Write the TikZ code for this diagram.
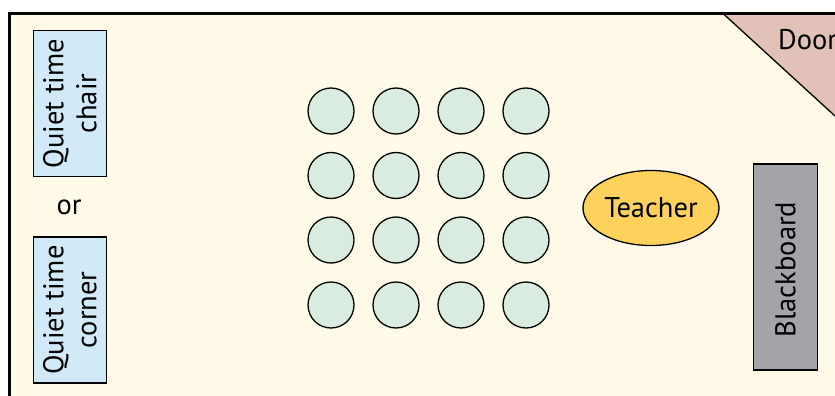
\documentclass[tikz,border=0pt]{standalone}
\usepackage{fontspec}
\usetikzlibrary{shapes.geometric}
\setmainfont{PT Sans}
\definecolor{paper}{HTML}{FFFBE8}
\definecolor{deskfill}{HTML}{D9ECDF}
\definecolor{quietfill}{HTML}{D2E9F8}
\definecolor{doorfill}{HTML}{E2C2B8}
\definecolor{teacherfill}{HTML}{FDD25C}
\definecolor{boardfill}{HTML}{A2A4A7}
\tikzset{
  lbl/.style={font=\fontsize{28.5}{33}\selectfont, align=center, text=black},
  desk/.style={circle, draw=black, line width=1.3pt, fill=deskfill, minimum size=46pt, inner sep=0pt},
  quiet/.style={rectangle, draw=black, line width=1.3pt, fill=quietfill, minimum width=146pt, minimum height=73pt, inner sep=0pt, rotate=90, lbl}
}
\begin{document}
\begin{tikzpicture}[x=1pt,y=-1pt]
\useasboundingbox (0,0) rectangle (835,396);
\fill[white] (0,0) rectangle (835,396);
\begin{scope}
\clip (0,0) rectangle (835,396);
\draw[line width=2.4pt, fill=paper] (9.5,13.5) rectangle (850,410);
\coordinate (doorA) at (723,13.5);
\coordinate (doorB) at (835,116);
\fill[doorfill] (doorA) -- (doorB) -- (835,13.5) -- cycle;
\draw[line width=1.3pt] (doorA) -- (doorB);
\draw[line width=2.4pt] (doorA) -- (835,13.5);
\node[lbl, anchor=west, inner sep=0pt] (door) at (778,40) {Door};
\end{scope}
\node[quiet] (chair) at (70,103.5) {Quiet time\\chair};
\node[quiet] (corner) at (70,310) {Quiet time\\corner};
\node[lbl] (or) at (69,207.5) {or};
\foreach \r/\y in {1/111,2/175.5,3/240,4/305}
  \foreach \c/\x in {1/331,2/396,3/461,4/526}
    \node[desk] (d\r\c) at (\x,\y) {};
\node[ellipse, draw=black, line width=1.3pt, fill=teacherfill, minimum width=136pt, minimum height=75pt, inner sep=0pt, lbl] (teacher) at (651,208) {\raisebox{-1pt}{Teacher}};
\node[rectangle, draw=black, line width=1.3pt, fill=boardfill, minimum width=206pt, minimum height=64pt, inner sep=0pt, rotate=90, lbl] (board) at (785.5,267) {Blackboard\hspace*{5pt}};
\end{tikzpicture}
\end{document}
